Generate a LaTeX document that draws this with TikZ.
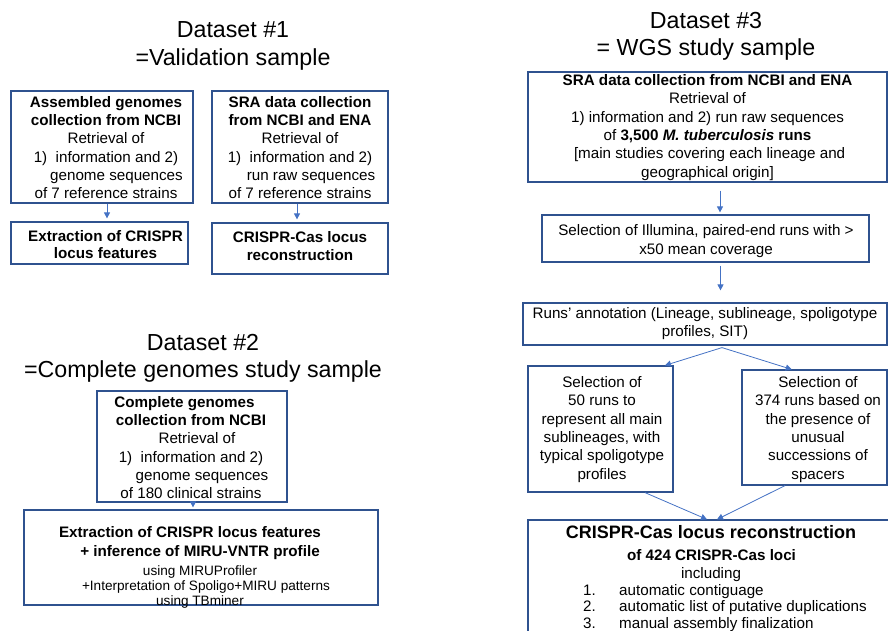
\documentclass[tikz,border=0pt]{standalone}
\usepackage{fontspec}
\setmainfont{Liberation Sans}
\usetikzlibrary{arrows.meta}
\definecolor{boxc}{HTML}{2F528F}
\definecolor{arrc}{HTML}{4472C4}
\begin{document}
\begin{tikzpicture}[x=1pt,y=-1pt,
  box/.style={draw=boxc, line width=1.2pt, inner sep=0pt, rectangle},
  txt/.style={align=center, inner sep=0pt, font=\fontsize{15.2}{18.3}\selectfont},
  btxt/.style={align=center, inner sep=0pt, font=\fontsize{15.2}{17.5}\selectfont\bfseries},
  ttl/.style={align=center, inner sep=0pt, font=\fontsize{23.2}{27.5}\selectfont},
  arr/.style={draw=arrc, line width=0.8pt, -{Triangle[length=6pt,width=6pt]}}
]
\useasboundingbox (0,0) rectangle (888,631);
\clip (0,0) rectangle (888,631);

% ---------- titles
\node[ttl] (t1) at (233,46) {Dataset \#1\\=Validation sample};
\node[ttl] (t2) at (203,358.5) {Dataset \#2\\=Complete genomes study sample};
\node[ttl] (t3) at (706,36.5) {Dataset \#3\\= WGS study sample};

% ---------- Dataset 1
\node[box, minimum width=182pt, minimum height=112pt] (a1) at (102,147) {};
\node[txt] (a1t) at (106,147.5) {\textbf{Assembled genomes}\\\textbf{collection from NCBI}\\Retrieval of\\1)\ \ information and 2)\\\hspace*{21pt}genome sequences\\of 7 reference strains};
\node[box, minimum width=176pt, minimum height=112pt] (a2) at (300,147) {};
\node[txt] (a2t) at (300,147.5) {\textbf{SRA data collection}\\\textbf{from NCBI and ENA}\\Retrieval of\\1)\ \ information and 2)\\\hspace*{22pt}run raw sequences\\of 7 reference strains};
\node[box, minimum width=177pt, minimum height=42pt] (a1b) at (99.5,243) {};
\node[btxt] (a1bt) at (105.5,244.5) {Extraction of CRISPR\\locus features};
\node[box, minimum width=176pt, minimum height=51pt] (a2b) at (300,248.5) {};
\node[btxt] (a2bt) at (300,246) {CRISPR-Cas locus\\reconstruction};
\draw[arr, shorten >=3pt] ([xshift=5pt]a1.south) -- ([xshift=5pt]a1.south |- a1b.north);
\draw[arr, shorten >=3pt] ([xshift=-3pt]a2.south) -- ([xshift=-3pt]a2.south |- a2b.north);

% ---------- Dataset 2
\node[box, minimum width=190pt, minimum height=111pt] (b1) at (192,446.5) {};
\node[txt] (b1t) at (191,447.5) {\textbf{Complete genomes}\hspace*{13pt}\\\textbf{collection from NCBI}\\\hspace*{12pt}Retrieval of\\1)\ \ information and 2)\\\hspace*{22pt}genome sequences\\of 180 clinical strains};
\node[box, minimum width=354pt, minimum height=95pt] (b2) at (201,557.5) {};
\node[btxt, font=\fontsize{15.2}{18.3}\selectfont\bfseries] (b2t) at (200,543) {Extraction of CRISPR locus features\hspace*{20pt}\\+ inference of MIRU-VNTR profile};
\node[align=center, inner sep=0pt, font=\fontsize{13.6}{15}\selectfont] (b2s) at (200,587) {using MIRUProfiler\\\hspace*{12pt}+Interpretation of Spoligo+MIRU patterns\\using TBminer};
\draw[arr, shorten >=2pt] ([xshift=1pt]b1.south) -- ([xshift=1pt]b1.south |- b2.north);

% ---------- Dataset 3
\node[box, minimum width=359pt, minimum height=110pt] (c1) at (707.5,127) {};
\node[txt] (c1t) at (707.5,127.5) {\textbf{SRA data collection from NCBI and ENA}\\Retrieval of\\1) information and 2) run raw sequences\\of \textbf{3,500 \textit{M. tuberculosis} runs}\\\ [main studies covering each lineage and\\geographical origin]};
\node[box, minimum width=327pt, minimum height=47pt] (c2) at (705.5,238.5) {};
\node[txt] (c2t) at (706,241) {Selection of Illumina, paired-end runs with >\\x50 mean coverage};
\node[box, minimum width=364pt, minimum height=42pt] (c3) at (705,324) {};
\node[txt] (c3t) at (705,323.5) {Runs' annotation (Lineage, sublineage, spoligotype\\profiles, SIT)};
\node[box, minimum width=145pt, minimum height=126pt] (c4) at (600.5,429) {};
\node[txt] (c4t) at (602,429.5) {Selection of\\50 runs to\\represent all main\\sublineages, with\\typical spoligotype\\profiles};
\node[box, minimum width=145pt, minimum height=115pt] (c5) at (814.5,427.5) {};
\node[txt] (c5t) at (818,429.5) {Selection of\\374 runs based on\\the presence of\\unusual\\successions of\\spacers};
\node[box, minimum width=372pt, minimum height=130pt] (c6) at (714,585) {};
\node[inner sep=0pt, anchor=base, font=\fontsize{18}{20}\selectfont\bfseries] (c6h) at (711,538.5) {CRISPR-Cas locus reconstruction};
\node[inner sep=0pt, anchor=base, font=\fontsize{15.2}{18}\selectfont\bfseries] (c6s) at (711.5,560) {of 424 CRISPR-Cas loci};
\node[inner sep=0pt, anchor=base, font=\fontsize{15.2}{18}\selectfont] (c6i) at (711,578) {including};
\node[inner sep=0pt, anchor=base west, font=\fontsize{15.2}{16.7}\selectfont] (c6l) at (583,595) {\begin{tabular}[t]{@{}p{36pt}@{}l@{}}1.&automatic contiguage\\2.&automatic list of putative duplications\\3.&manual assembly finalization\end{tabular}};

\draw[arr, shorten <=8pt, shorten >=2pt] ([xshift=12.5pt]c1.south) -- ([xshift=12.5pt]c1.south |- c2.north);
\draw[arr, shorten <=3pt, shorten >=12pt] ([xshift=15pt]c2.south) -- ([xshift=15pt]c2.south |- c3.north);
\draw[arr] ([xshift=17pt,yshift=-2pt]c3.south) -- ([xshift=64.5pt]c4.north);
\draw[arr] ([xshift=17pt,yshift=-2pt]c3.south) -- ([xshift=-22.8pt]c5.north);
\draw[arr] ([xshift=44.5pt]c4.south) -- ([xshift=-7pt]c6.north);
\draw[arr] ([xshift=-29.5pt]c5.south) -- ([xshift=3pt]c6.north);
\end{tikzpicture}
\end{document}
